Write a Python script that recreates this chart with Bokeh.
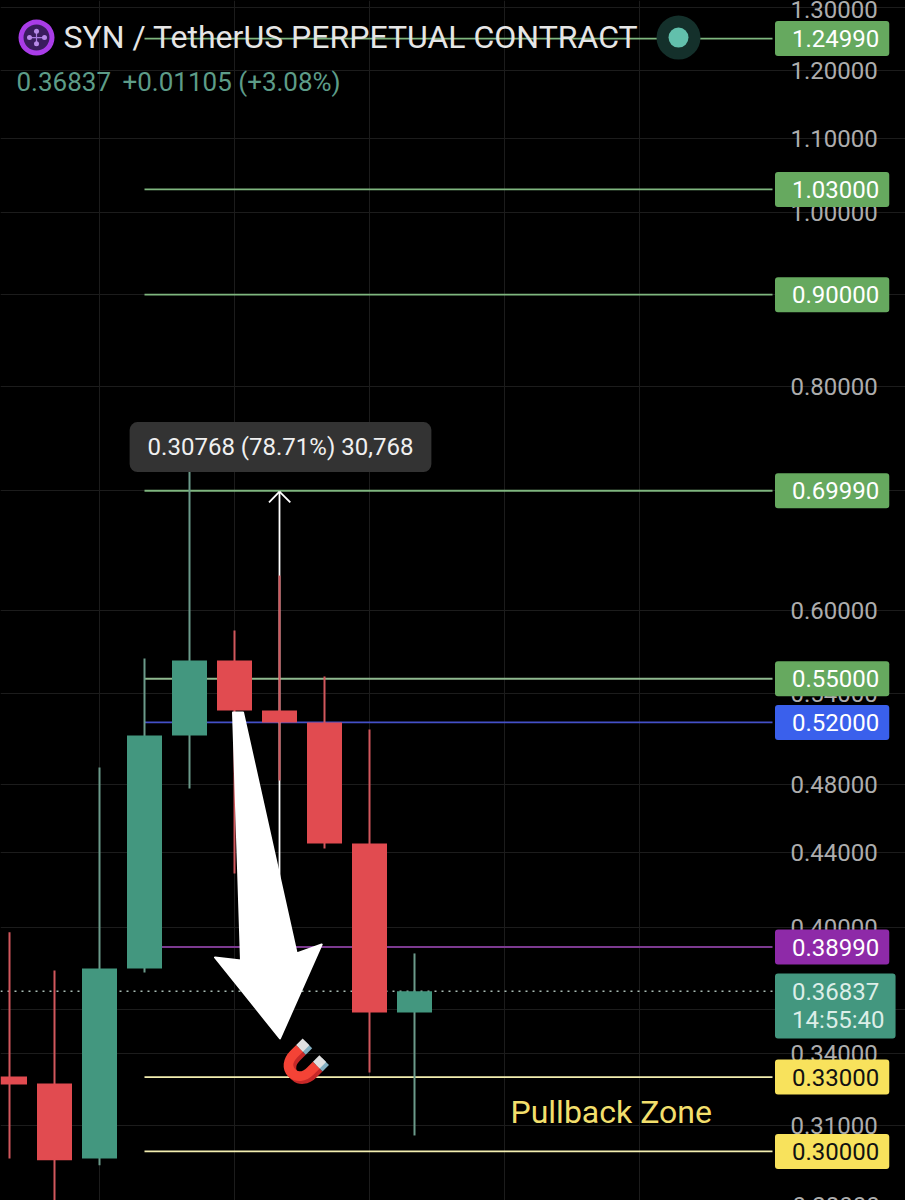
from bokeh.plotting import figure
from bokeh.embed import file_html
from bokeh.resources import INLINE
from bokeh.models import FixedTicker, PrintfTickFormatter, Label, Range1d

# candles: index, open, close, high, low
idx   = [0, 1, 2, 3, 4, 5, 6, 7, 8, 9]
opens = [0.3303, 0.3273, 0.2973, 0.3793, 0.5114, 0.5630, 0.5280, 0.5200, 0.4453, 0.3585]
closes= [0.3269, 0.2966, 0.3793, 0.5114, 0.5630, 0.5280, 0.5200, 0.4453, 0.3585, 0.36837]
highs = [0.3973, 0.3783, 0.4908, 0.5644, 0.7247, 0.5851, 0.6278, 0.5516, 0.5153, 0.3867]
lows  = [0.2973, 0.2700, 0.2947, 0.3774, 0.4778, 0.4285, 0.4827, 0.4424, 0.3320, 0.3062]

ticks = [1.3, 1.2, 1.1, 1.0, 0.9, 0.8, 0.7, 0.6, 0.54, 0.48, 0.44, 0.40, 0.36, 0.34, 0.31]
level_values = [1.2499, 1.03, 0.90, 0.6999, 0.55, 0.52, 0.3899, 0.33, 0.30]
level_labels = ["1.24990", "1.03000", "0.90000", "0.69990", "0.55000", "0.52000", "0.38990", "0.33000", "0.30000"]
level_lines  = ["#7fb67f", "#7fb67f", "#7fb67f", "#7fb67f", "#8fb98f", "#4450c8", "#7c3a90", "#f3eeb0", "#f3eeb0"]
level_boxes  = ["#66a95f", "#66a95f", "#66a95f", "#66a95f", "#66a95f", "#3a60ec", "#8e2aa8", "#f8e25c", "#f8e25c"]
level_texts  = ["#ffffff", "#ffffff", "#ffffff", "#ffffff", "#ffffff", "#ffffff", "#ffffff", "#111111", "#111111"]
last_price = 0.36837
countdown = "14:55:40"

# big arrow outline (candle index, price)
arrow_x = [4.967, 5.19, 6.382, 6.938, 6.011, 4.567, 5.144]
arrow_y = [0.5267, 0.5267, 0.3867, 0.3912, 0.3468, 0.3847, 0.3832]

BULL, BEAR = "#43977f", "#e14b50"
BULL_W, BEAR_W = "#6b9a8a", "#d0575c"
X = lambda px: (px - 9) / 45

p = figure(width=905, height=1200, output_backend="svg", toolbar_location=None,
           y_axis_type="log", y_axis_location="right",
           x_range=Range1d(X(0), X(905)), y_range=Range1d(0.2817, 1.3124),
           background_fill_color="#000000", border_fill_color="#000000",
           min_border_left=0, min_border_top=0, min_border_bottom=0, min_border_right=0)
p.outline_line_color = None
p.xaxis.visible = False
p.xgrid.ticker = FixedTicker(ticks=[2, 5, 8, 11, 14])
p.xgrid.grid_line_color = "#1c1c1c"
p.ygrid.ticker = FixedTicker(ticks=ticks)
p.ygrid.grid_line_color = "#1c1c1c"
p.ygrid.bounds = (X(0), X(772))
ax = p.yaxis[0]
ax.fixed_location = X(772)
ax.ticker = FixedTicker(ticks=ticks)
ax.formatter = PrintfTickFormatter(format="%.5f")
ax.axis_line_color = None
ax.major_tick_line_color = None
ax.major_tick_out = 0
ax.major_tick_in = 0
ax.minor_tick_line_color = None
ax.major_label_standoff = 18
ax.major_label_text_font = "Roboto"
ax.major_label_text_font_size = "24px"
ax.major_label_text_color = "#adadad"

# level lines
p.segment(x0=[3] * len(level_values), x1=[X(772)] * len(level_values), y0=level_values, y1=level_values,
          line_color=level_lines, line_width=1.8)

# last price dotted line
p.segment(x0=[X(0)], x1=[X(772)], y0=[last_price], y1=[last_price], line_color="#a9bcb4",
          line_width=1.5, line_dash="2 5")

# thin white up arrow
p.segment(x0=[6, 6, 6], y0=[0.4246, 0.6992, 0.6992], x1=[6, 5.767, 6.24], y1=[0.6992, 0.6896, 0.6896],
          line_color="#ffffff", line_width=1.8)

# candles
w_col = [BULL_W if c >= o else BEAR_W for o, c in zip(opens, closes)]
b_col = [BULL if c >= o else BEAR for o, c in zip(opens, closes)]
p.segment(x0=idx, x1=idx, y0=lows, y1=highs, line_color=w_col, line_width=2)
p.vbar(x=idx, width=35 / 45, top=[max(a, b) for a, b in zip(opens, closes)],
       bottom=[min(a, b) for a, b in zip(opens, closes)], fill_color=b_col, line_color=None)

# big white arrow
p.patch(arrow_x, arrow_y, fill_color="#ffffff", line_color="#ffffff", line_width=2, line_join="round")

# magnet
p.text(x=[X(302)], y=[0.3355], text=["\U0001F9F2"], text_font_size="34px", text_align="center",
       text_baseline="middle", angle=0.785)

# header logo + status dot
LOGO_Y = 1.2515
p.scatter([X(36)], [LOGO_Y], size=36, fill_color="#a93ce8", line_color=None)
p.scatter([X(36)], [LOGO_Y], size=26, fill_color="#3a1c5e", line_color=None)
p.segment([X(29), X(36)], [LOGO_Y, LOGO_Y * 1.008], [X(44), X(36)], [LOGO_Y, LOGO_Y * 0.992],
          line_color="#a97be0", line_width=1.2)
p.scatter([X(29), X(44), X(36), X(36)], [LOGO_Y, LOGO_Y, LOGO_Y * 1.008, LOGO_Y * 0.992], size=5,
          fill_color="#b88ae8", line_color=None)
p.scatter([X(678)], [LOGO_Y], size=44, fill_color="#14302b", line_color=None)
p.scatter([X(678)], [LOGO_Y], size=20, fill_color="#62c0ac", line_color=None)


def txt(x, y, s, color, size, align="left"):
    p.add_layout(Label(x=x, y=y, text=s, text_color=color, text_font="Roboto", text_font_size=size,
                       text_align=align, text_baseline="middle"))


txt(X(63), 1.2531, "SYN / TetherUS PERPETUAL CONTRACT", "#e6e6e6", "32px")
txt(X(16), 1.1827, "0.36837", "#5d9c88", "26px")
txt(X(122), 1.1827, "+0.01105 (+3.08%)", "#5d9c88", "26px")
txt(X(510), 0.3154, "Pullback Zone", "#f2df6c", "32px")

# tooltip
p.add_layout(Label(x=X(280), y=0.7402, text="0.30768 (78.71%) 30,768", text_color="#f0f0f0",
                   text_font="Roboto", text_font_size="24px", text_align="center", text_baseline="middle",
                   background_fill_color="#333333", border_radius=8, padding=(18, 11)))

# price tags
for v, s, bc, tc in zip(level_values, level_labels, level_boxes, level_texts):
    p.add_layout(Label(x=X(774.5), y=v, text=s, text_color=tc, text_font="Roboto", text_font_size="24px",
                       text_align="left", text_baseline="middle", background_fill_color=bc,
                       border_radius=3, padding=(17, 10, 9, 9)))
p.add_layout(Label(x=X(774.5), y=0.3615, text=f"{last_price:.5f}\n{countdown}", text_color="#dceee8",
                   text_font="Roboto", text_font_size="24px", text_align="left", text_baseline="middle",
                   background_fill_color=BULL, border_radius=3, padding=(17, 11, 5, 4), text_line_height=1.0))
txt(X(792), 0.2800, "0.28000", "#adadad", "24px")

tmpl = """{% block postamble %}<style>html,body{margin:0;padding:0;background:#000;overflow:hidden}</style>{% endblock %}
"""
open("out.html", "w").write(file_html(p, INLINE, template=tmpl))
